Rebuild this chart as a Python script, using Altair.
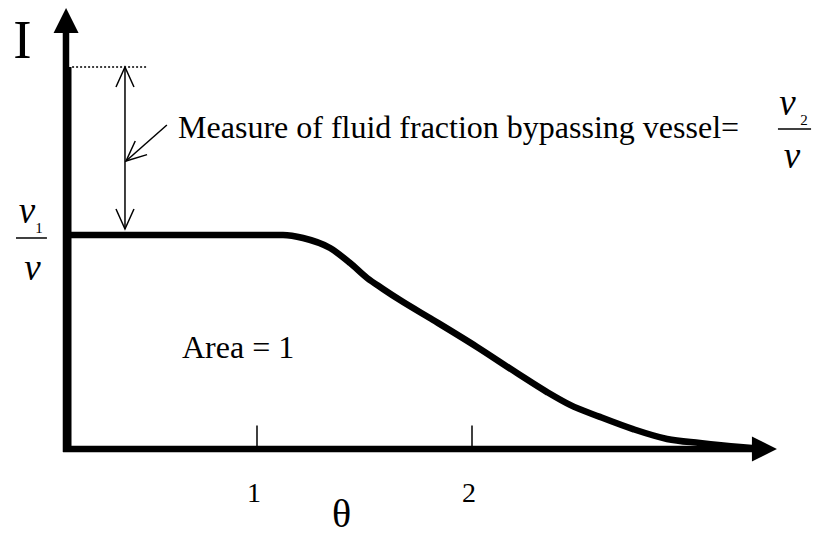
import altair as alt
import pandas as pd

# ---- data (theta = dimensionless time, I = normalised response) ----
curve_theta = [0.112, 1.121, 1.214, 1.340, 1.433, 1.512, 1.586, 1.665, 1.819,
               2.023, 2.209, 2.349, 2.456, 2.595, 2.749, 2.907, 3.060, 3.247, 3.363]
curve_I = [1.0, 1.0, 0.986, 0.939, 0.869, 0.799, 0.748, 0.696, 0.603,
           0.477, 0.355, 0.266, 0.206, 0.150, 0.093, 0.047, 0.028, 0.009, 0.0]

spike_theta = 0.128          # bypass pulse at theta ~ 0
spike_top = 1.785            # height of the bypass pulse

tick_values = [1, 2]
tick_labels = ["1", "2"]
tick_top = 0.11

# axis geometry in data units
y_axis_theta = 0.1116
y_axis_range = [-0.014, 1.963]
x_axis_range = [0.098, 3.316]
y_arrow_pos = [0.112, 2.002]
x_arrow_pos = [3.360, 0.0]

# annotation geometry in data units
dotted_range = [0.140, 0.493]
measure_theta = 0.386
measure_range = [1.028, 1.785]
pointer_from = [0.581, 1.514]
pointer_to = [0.391, 1.346]

THETA_DOMAIN = [-0.1953, 3.5953]
I_DOMAIN = [-0.4065, 2.0981]

xs = alt.Scale(domain=THETA_DOMAIN, nice=False, zero=False)
ys = alt.Scale(domain=I_DOMAIN, nice=False, zero=False)
SERIF = "Liberation Serif"


def X(f="t"):
    return alt.X(f"{f}:Q", scale=xs, axis=None)


def Y(f="i"):
    return alt.Y(f"{f}:Q", scale=ys, axis=None)


def rule(rows, width, dash=None):
    kw = dict(color="black", strokeWidth=width)
    if dash:
        kw["strokeDash"] = dash
    return alt.Chart(pd.DataFrame(rows)).mark_rule(**kw).encode(
        x=X("t"), x2="t2:Q", y=Y("i"), y2="i2:Q")


def text(rows, size, align="left", italic=False, dx=0):
    kw = dict(font=SERIF, fontSize=size, align=align, baseline="alphabetic",
              color="black", dx=dx)
    if italic:
        kw["fontStyle"] = "italic"
    return alt.Chart(pd.DataFrame(rows)).mark_text(**kw).encode(
        x=X("t"), y=Y("i"), text="s:N")


# response curve
curve = alt.Chart(pd.DataFrame({"t": curve_theta, "i": curve_I})).mark_line(
    color="black", strokeWidth=6.5, interpolate="monotone").encode(
    x=X(), y=Y(), order="t:Q")

spike = rule([{"t": spike_theta, "t2": spike_theta, "i": 0, "i2": spike_top}], 4)

# axes
axes = rule([
    {"t": y_axis_theta, "t2": y_axis_theta, "i": y_axis_range[0], "i2": y_axis_range[1]},
    {"t": x_axis_range[0], "t2": x_axis_range[1], "i": 0, "i2": 0},
], 6.5)

arrow_rows = pd.DataFrame({"t": [y_arrow_pos[0], x_arrow_pos[0]],
                           "i": [y_arrow_pos[1], x_arrow_pos[1]],
                           "a": [0, 90]})
axis_arrows = alt.Chart(arrow_rows).mark_point(
    shape="M0,-1L1,1L-1,1Z", size=625, filled=True, color="black", opacity=1,
    strokeWidth=0).encode(x=X(), y=Y(), angle=alt.Angle("a:Q", scale=None))

ticks = rule([{"t": v, "t2": v, "i": 0, "i2": tick_top} for v in tick_values], 1.5)
tick_text = text([{"t": v, "i": -0.248, "s": s} for v, s in zip(tick_values, tick_labels)],
                 28, align="center", dx=-3)

# annotations
dotted = rule([{"t": dotted_range[0], "t2": dotted_range[1],
                "i": spike_top, "i2": spike_top}], 1.3, dash=[2, 2])
measure = rule([
    {"t": measure_theta, "t2": measure_theta, "i": measure_range[0], "i2": measure_range[1]},
    {"t": pointer_from[0], "t2": pointer_to[0], "i": pointer_from[1], "i2": pointer_to[1]},
], 1.5)
heads = alt.Chart(pd.DataFrame({
    "t": [measure_theta, measure_theta, pointer_to[0]],
    "i": [measure_range[1], measure_range[0], pointer_to[1]],
    "a": [0, 180, 229],
})).mark_point(shape="M-0.45,1L0,0L0.45,1", size=1600, filled=False,
               color="black", opacity=1, strokeWidth=1.5).encode(
    x=X(), y=Y(), angle=alt.Angle("a:Q", scale=None))

fraction_bars = rule([
    {"t": -0.121, "t2": 0.023, "i": 0.986, "i2": 0.986},
    {"t": 3.423, "t2": 3.577, "i": 1.495, "i2": 1.495},
], 1.5)
v_text = text([
    {"t": -0.070, "i": 1.056, "s": "v"},
    {"t": -0.044, "i": 0.790, "s": "v"},
    {"t": 3.467, "i": 1.561, "s": "v"},
    {"t": 3.488, "i": 1.313, "s": "v"},
], 37, align="center", italic=True)
sub_text = text([
    {"t": -0.014, "i": 1.009, "s": "1"},
    {"t": 3.544, "i": 1.514, "s": "2"},
], 15, align="center")

labels = text([
    {"t": 0.633, "i": 1.453, "s": "Measure of fluid fraction bypassing vessel="},
    {"t": 0.651, "i": 0.425, "s": "Area = 1"},
], 32)
y_title = text([{"t": -0.091, "i": 1.827, "s": "I"}], 55, align="center")
x_title = text([{"t": 1.393, "i": -0.3645, "s": "θ"}], 40, align="center")

chart = alt.layer(
    dotted, measure, heads, axes, spike, curve, axis_arrows, ticks, tick_text,
    fraction_bars, v_text, sub_text, labels, y_title, x_title,
).properties(
    width=815, height=536, padding=0,
    autosize=alt.AutoSizeParams(type="none"), background="white",
).configure_view(stroke=None)

chart.save("out.html", embed_options={"renderer": "svg", "actions": False})
